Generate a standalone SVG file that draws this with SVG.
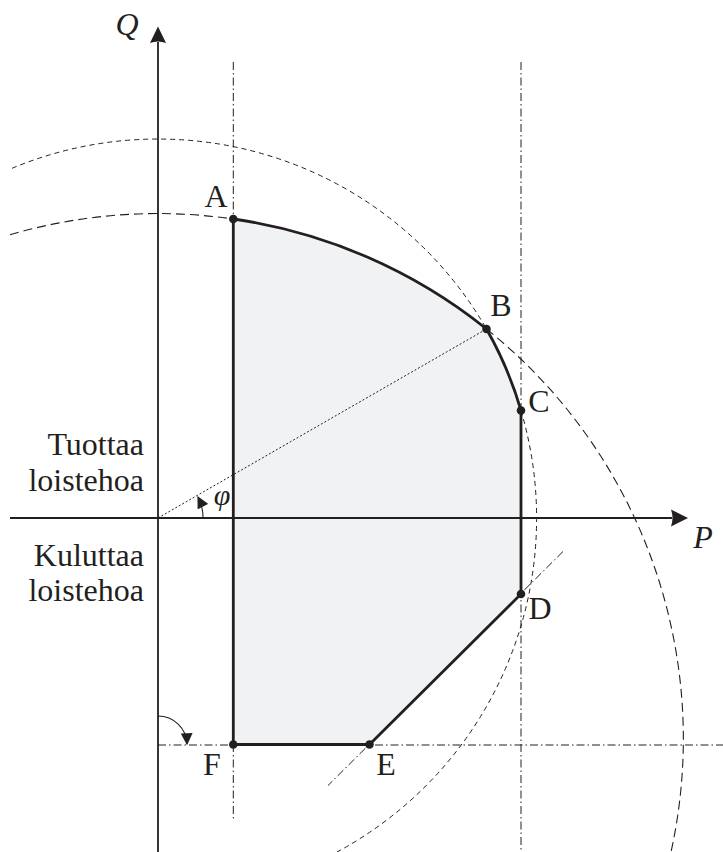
<svg xmlns="http://www.w3.org/2000/svg" width="723" height="852" viewBox="0 0 723 852">
<defs>
<style>
.lbl{font-family:"Liberation Serif","Times New Roman",serif;font-size:32px;fill:#231f20}
.it{font-style:italic}
.ax{stroke:#231f20;stroke-width:1.8;fill:none}
.dashS{stroke:#231f20;stroke-width:1;fill:none;stroke-dasharray:5,4}
.dashR{stroke:#231f20;stroke-width:1.1;fill:none;stroke-dasharray:9,5}
.dd{stroke:#231f20;stroke-width:1;fill:none;stroke-dasharray:8,3,1.5,3}
.dot{stroke:#231f20;stroke-width:1;fill:none;stroke-dasharray:2,2}
.thick{stroke:#231f20;stroke-width:2.8;fill:#f1f2f4;stroke-linejoin:round}
.pt{fill:#231f20}
</style>
<marker id="ah" viewBox="0 0 10 10" refX="9" refY="5" markerWidth="13" markerHeight="12" markerUnits="userSpaceOnUse" orient="auto">
<path d="M0,0 L10,5 L0,10 z" fill="#231f20"/>
</marker>
</defs>
<g id="construction">
<path class="dashS" d="M12,168.3 A379,379 0 0 1 486.5,329"/>
<path class="dashS" d="M521,410.5 A379,379 0 0 1 337,852"/>
<path class="dashR" d="M10,234.8 A525.1,525.1 0 0 1 233.3,219"/>
<path class="dashR" d="M486.5,329 A525.1,525.1 0 0 1 671,852"/>
<line class="dd" x1="233.3" y1="62" x2="233.3" y2="820"/>
<line class="dd" x1="521" y1="62" x2="521" y2="852"/>
<line class="dd" x1="158" y1="745" x2="723" y2="745"/>
<line class="dd" x1="563" y1="551.5" x2="328" y2="785.5"/>
</g>
<g id="region">
<path class="thick" d="M233.3,219 A525.1,525.1 0 0 1 486.5,329 A379,379 0 0 1 521,410.5 L521,594 L369.5,744.5 L233.3,744.5 Z"/>
</g>
<g id="phi-line">
<line class="dot" x1="158" y1="518" x2="486.5" y2="329"/>
</g>
<g id="axes">
<line class="ax" x1="158" y1="852" x2="158" y2="42"/>
<path d="M158,26.5 L166,43 Q158,40 150,43 Z" fill="#231f20"/>
<line class="ax" x1="10" y1="518" x2="672" y2="518"/>
<path d="M688,518 L671,526.5 Q674,518 671,509.5 Z" fill="#231f20"/>
<text class="lbl it" x="127" y="35" text-anchor="middle">Q</text>
<text class="lbl it" x="703" y="548" text-anchor="middle">P</text>
</g>
<g id="connectors">
<path d="M203,518 A45,45 0 0 0 198,497" fill="none" stroke="#231f20" stroke-width="1.1" marker-end="url(#ah)"/>
<path d="M158,716 A29,29 0 0 1 187,744" fill="none" stroke="#231f20" stroke-width="1.1" marker-end="url(#ah)"/>
</g>
<g id="phi"><text class="lbl it" x="222" y="505" text-anchor="middle" style="font-size:30px">φ</text></g>
<g id="A"><circle class="pt" cx="233.3" cy="219" r="4.3"/><text class="lbl" x="216" y="207" text-anchor="middle">A</text></g>
<g id="B"><circle class="pt" cx="486.5" cy="329" r="4.3"/><text class="lbl" x="501" y="316" text-anchor="middle">B</text></g>
<g id="C"><circle class="pt" cx="521" cy="410.5" r="4.3"/><text class="lbl" x="539" y="412" text-anchor="middle">C</text></g>
<g id="D"><circle class="pt" cx="521" cy="594" r="4.3"/><text class="lbl" x="540" y="619" text-anchor="middle">D</text></g>
<g id="E"><circle class="pt" cx="369.5" cy="744.5" r="4.3"/><text class="lbl" x="386" y="775" text-anchor="middle">E</text></g>
<g id="F"><circle class="pt" cx="233.3" cy="744.5" r="4.3"/><text class="lbl" x="212" y="775" text-anchor="middle">F</text></g>
<g id="labels">
<text class="lbl" x="144" y="455" text-anchor="end">Tuottaa</text>
<text class="lbl" x="144" y="491" text-anchor="end">loistehoa</text>
<text class="lbl" x="144" y="566" text-anchor="end">Kuluttaa</text>
<text class="lbl" x="144" y="601" text-anchor="end">loistehoa</text>
</g>
</svg>
